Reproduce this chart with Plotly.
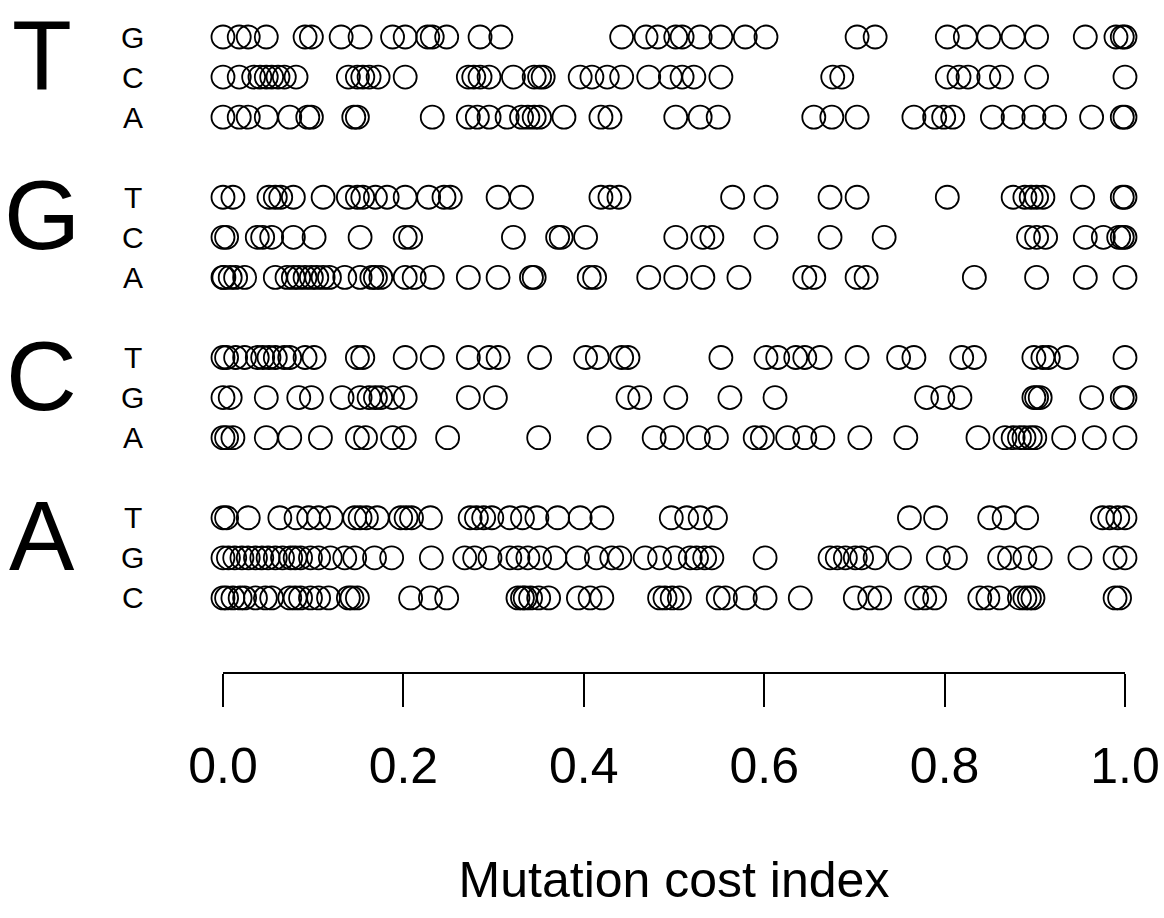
import plotly.graph_objects as go

# Mutation cost index values, one list per (base, substitute) row
T_G = [0.0, 0.018, 0.028, 0.048, 0.091, 0.098, 0.131, 0.152, 0.188, 0.202, 0.227, 0.232, 0.248, 0.285, 0.308,
       0.442, 0.469, 0.482, 0.502, 0.509, 0.529, 0.552, 0.579, 0.602, 0.703, 0.723, 0.803, 0.823, 0.849, 0.876,
       0.902, 0.956, 0.990, 0.997, 1.0]
T_C = [0.0, 0.018, 0.034, 0.041, 0.048, 0.054, 0.061, 0.068, 0.081, 0.139, 0.149, 0.155, 0.162, 0.172, 0.202,
       0.272, 0.278, 0.285, 0.295, 0.322, 0.345, 0.351, 0.355, 0.396, 0.409, 0.426, 0.442, 0.472, 0.496, 0.509,
       0.522, 0.552, 0.676, 0.686, 0.803, 0.816, 0.826, 0.849, 0.863, 0.902, 1.0]
T_A = [0.0, 0.018, 0.028, 0.048, 0.074, 0.094, 0.098, 0.145, 0.149, 0.232, 0.272, 0.282, 0.295, 0.315, 0.331,
       0.338, 0.345, 0.351, 0.378, 0.419, 0.429, 0.502, 0.529, 0.549, 0.655, 0.675, 0.703, 0.766, 0.789, 0.799,
       0.809, 0.853, 0.876, 0.899, 0.922, 0.963, 0.997, 1.0]
G_T = [0.0, 0.011, 0.051, 0.058, 0.064, 0.078, 0.111, 0.139, 0.149, 0.155, 0.169, 0.182, 0.202, 0.228, 0.245,
       0.252, 0.305, 0.331, 0.419, 0.429, 0.439, 0.565, 0.602, 0.673, 0.703, 0.803, 0.876, 0.889, 0.896, 0.902,
       0.909, 0.953, 0.997, 1.0]
G_C = [0.0, 0.004, 0.038, 0.044, 0.054, 0.078, 0.101, 0.152, 0.202, 0.208, 0.322, 0.371, 0.375, 0.402, 0.502,
       0.532, 0.542, 0.602, 0.673, 0.733, 0.893, 0.902, 0.912, 0.956, 0.976, 0.993, 0.997, 1.0]
G_A = [0.0, 0.001, 0.008, 0.014, 0.024, 0.058, 0.071, 0.078, 0.084, 0.091, 0.098, 0.104, 0.111, 0.118, 0.135,
       0.152, 0.165, 0.169, 0.175, 0.202, 0.212, 0.232, 0.272, 0.305, 0.342, 0.345, 0.406, 0.412, 0.472, 0.502,
       0.532, 0.572, 0.645, 0.655, 0.703, 0.713, 0.833, 0.902, 0.956, 1.0]
C_T = [0.0, 0.004, 0.014, 0.024, 0.038, 0.044, 0.051, 0.058, 0.068, 0.074, 0.091, 0.101, 0.149, 0.155, 0.202,
       0.232, 0.272, 0.295, 0.305, 0.351, 0.402, 0.415, 0.442, 0.449, 0.552, 0.602, 0.615, 0.635, 0.645, 0.662,
       0.703, 0.749, 0.766, 0.819, 0.833, 0.899, 0.909, 0.915, 0.935, 1.0]
C_G = [0.0, 0.008, 0.048, 0.084, 0.098, 0.132, 0.152, 0.162, 0.169, 0.175, 0.188, 0.202, 0.272, 0.302, 0.449,
       0.462, 0.502, 0.562, 0.612, 0.780, 0.798, 0.817, 0.899, 0.902, 0.906, 0.963, 0.997, 1.0]
C_A = [0.0, 0.004, 0.011, 0.048, 0.074, 0.108, 0.149, 0.158, 0.188, 0.201, 0.249, 0.350, 0.417, 0.478, 0.498,
       0.527, 0.547, 0.590, 0.598, 0.626, 0.645, 0.665, 0.706, 0.757, 0.837, 0.867, 0.876, 0.883, 0.888, 0.895,
       0.900, 0.932, 0.966, 1.0]
A_T = [0.0, 0.004, 0.028, 0.063, 0.081, 0.095, 0.106, 0.120, 0.146, 0.152, 0.159, 0.171, 0.197, 0.203, 0.209,
       0.230, 0.274, 0.281, 0.289, 0.298, 0.318, 0.332, 0.348, 0.371, 0.396, 0.420, 0.497, 0.514, 0.529, 0.546,
       0.761, 0.790, 0.850, 0.866, 0.891, 0.975, 0.983, 0.992, 1.0]
A_G = [0.0, 0.006, 0.013, 0.021, 0.028, 0.036, 0.043, 0.050, 0.058, 0.066, 0.075, 0.080, 0.086, 0.097, 0.106,
       0.119, 0.135, 0.146, 0.168, 0.187, 0.231, 0.268, 0.279, 0.296, 0.318, 0.327, 0.338, 0.351, 0.368, 0.393,
       0.414, 0.431, 0.440, 0.468, 0.484, 0.501, 0.518, 0.525, 0.534, 0.542, 0.601, 0.673, 0.681, 0.690, 0.701,
       0.708, 0.723, 0.750, 0.793, 0.812, 0.861, 0.872, 0.889, 0.906, 0.950, 0.989, 1.0]
A_C = [0.0, 0.004, 0.011, 0.019, 0.024, 0.036, 0.047, 0.054, 0.074, 0.080, 0.086, 0.097, 0.106, 0.117, 0.139,
       0.143, 0.149, 0.208, 0.230, 0.248, 0.327, 0.332, 0.335, 0.341, 0.350, 0.361, 0.394, 0.407, 0.420, 0.484,
       0.490, 0.498, 0.506, 0.549, 0.557, 0.579, 0.601, 0.640, 0.701, 0.717, 0.728, 0.769, 0.778, 0.789, 0.839,
       0.848, 0.861, 0.883, 0.889, 0.894, 0.898, 0.989, 0.994]

groups = ["T", "G", "C", "A"]
subs = [["G", "C", "A"], ["T", "C", "A"], ["T", "G", "A"], ["T", "G", "C"]]
rows = [[T_G, T_C, T_A], [G_T, G_C, G_A], [C_T, C_G, C_A], [A_T, A_G, A_C]]
tick_vals = [0.0, 0.2, 0.4, 0.6, 0.8, 1.0]
tick_text = ["0.0", "0.2", "0.4", "0.6", "0.8", "1.0"]

FONT = "Liberation Sans, Arial, sans-serif"
fig = go.Figure()
annotations = []
for g, (base, sublist, rowdata) in enumerate(zip(groups, subs, rows)):
    for i, (s, vals) in enumerate(zip(sublist, rowdata)):
        ypos = g * 4 + i
        fig.add_trace(go.Scatter(
            x=vals, y=[ypos] * len(vals), mode="markers", cliponaxis=False,
            marker=dict(symbol="circle-open", size=23, color="black", line=dict(width=1.8, color="black")),
            showlegend=False, hoverinfo="x"))
        annotations.append(dict(x=-0.0998, y=ypos, xref="paper", yref="y", text=s, showarrow=False,
                                font=dict(family=FONT, size=30, color="black"), xanchor="center", yanchor="middle"))
    annotations.append(dict(x=-0.2007, y=g * 4 + 0.45, xref="paper", yref="y", text=base, showarrow=False,
                            font=dict(family=FONT, size=98, color="black"), xanchor="center", yanchor="middle"))

fig.update_layout(
    width=1164, height=918,
    margin=dict(l=223, r=39, t=10, b=246, autoexpand=False),
    paper_bgcolor="white", plot_bgcolor="white",
    annotations=annotations,
    xaxis=dict(range=[0, 1], tickvals=tick_vals, ticktext=tick_text, showgrid=False, zeroline=False,
               automargin=False, ticklabeloverflow="allow",
               showline=True, linecolor="black", linewidth=1.5, ticks="outside", ticklen=33, tickwidth=1.5,
               tickcolor="black", ticklabelstandoff=16,
               tickfont=dict(family=FONT, size=50, color="black"),
               title=dict(text="Mutation cost index", font=dict(family=FONT, size=50, color="black"), standoff=69)),
    yaxis=dict(range=[15.85, -0.674], visible=False, showgrid=False, zeroline=False, automargin=False),
)
fig.write_html("out.html", config={"displayModeBar": False, "responsive": False},
               post_script="document.documentElement.style.margin='0';document.body.style.margin='0';"
                           "document.body.style.overflow='hidden';")
